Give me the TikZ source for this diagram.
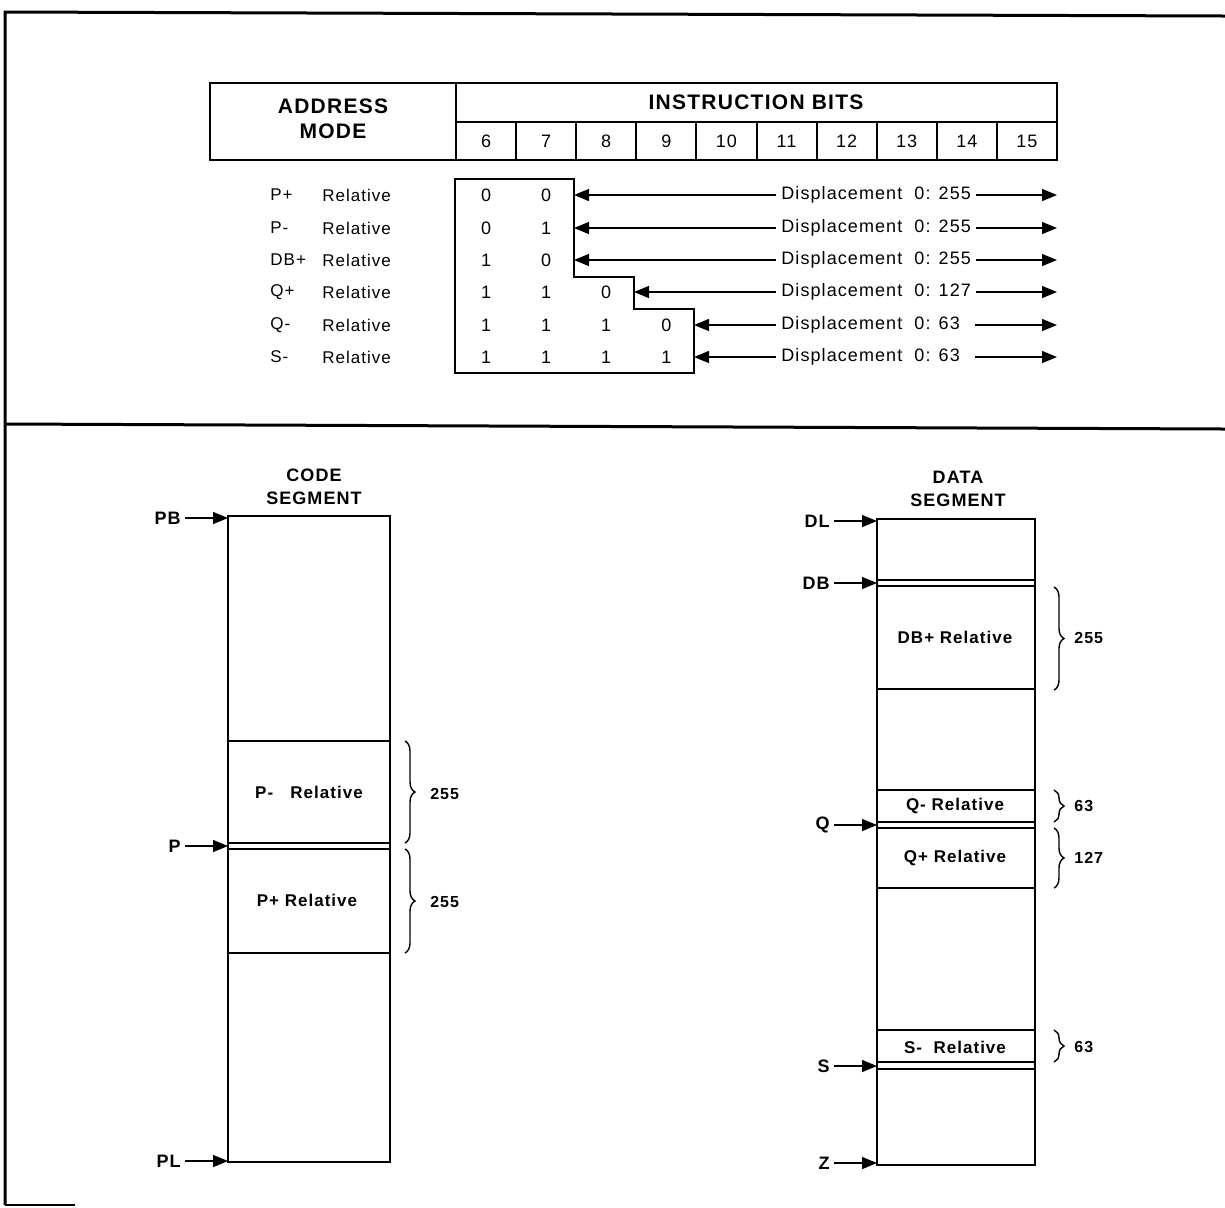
\documentclass[tikz,border=0pt]{standalone}
\usepackage{fontspec}
\setmainfont[LetterSpace=6]{Liberation Sans}
\usetikzlibrary{arrows.meta,decorations.pathreplacing}
\tikzset{
  frame/.style={line width=1.5pt},
  tab/.style={line width=1pt},
  seg/.style={line width=1.2pt},
  inner/.style={line width=0.8pt},
  ptr/.style={line width=0.7pt,-{Triangle[length=7.5pt,width=6pt]}},
  brc/.style={line width=0.7pt,decorate,decoration={brace,amplitude=5pt}},
  hdr/.style={font=\fontsize{10.5}{12.5}\selectfont\bfseries,align=center,inner sep=0pt},
  bitn/.style={font=\fontsize{9}{10}\selectfont,inner sep=0pt},
  model/.style={font=\fontsize{8.5}{10}\selectfont,anchor=west,inner sep=0pt},
  disp/.style={font=\fontsize{9}{10}\selectfont,anchor=west,inner sep=2.5pt},
  segt/.style={font=\fontsize{9}{11.5}\selectfont\bfseries,align=center,inner sep=0pt},
  regt/.style={font=\fontsize{8.5}{10}\selectfont\bfseries,inner sep=0pt},
  cnt/.style={font=\fontsize{8}{9}\selectfont\bfseries,anchor=west,inner sep=0pt},
  plab/.style={font=\fontsize{9}{10}\selectfont\bfseries,anchor=east,inner sep=2pt}
}
\begin{document}
\begin{tikzpicture}[x=0.5pt,y=-0.5pt]
\useasboundingbox (0,0) rectangle (1225,1207);
% outer frame
\draw[frame] (1225,16) -- (5,12) -- (5,1205);
\draw[line width=0.8pt] (5,1205) -- (75,1205);
\draw[frame] (5,424) -- (1225,429);
% ---------- table ----------
\draw[tab] (210,83) rectangle (1057,160);
\draw[tab] (456,83) -- (456,160);
\draw[tab] (456,122) -- (1057,122);
\foreach \i in {1,...,9} \draw[tab] (456+\i*60.1,122) -- (456+\i*60.1,160);
\node[hdr] (am) at (333,119) {ADDRESS\\MODE};
\node[hdr] (ib) at (756,102) {INSTRUCTION BITS};
\foreach \b [count=\i from 0] in {6,...,15}
  \node[bitn] (b\b) at (486+\i*60.1,141) {\b};
% mode rows
\foreach \m/\y [count=\k] in {P+/195,P-/228,DB+/260,Q+/292,Q-/325,S-/357}{
  \node[model] (m\k) at (270,\y) {\m};
  \node[model] (r\k) at (322,\y) {Relative};
}
% step box
\draw[inner] (455,179) -- (574,179) -- (574,277) -- (634,277) -- (634,309)
  -- (694,309) -- (694,373) -- (455,373) -- cycle;
% bit values
\foreach \row/\y in {{0,0}/195,{0,1}/228,{1,0}/260,{1,1,0}/292,{1,1,1,0}/325,{1,1,1,1}/357}{
  \foreach \v [count=\c from 0] in \row
    \node[bitn] at (486+\c*60.1,\y) {\v};
}
% displacement arrows
\foreach \k/\y/\e/\t in {1/195/574/{0: 255},2/228/574/{0: 255},3/260/574/{0: 255},
  4/292/634/{0: 127},5/325/694/{0: 63\phantom{5}},6/357/694/{0: 63\phantom{5}}}{
  \node[disp] (d\k) at (776,\y) {Displacement\ \ \t};
  \coordinate (l\k) at (\e,\y);
  \coordinate (e\k) at (1057,\y);
  \draw[ptr] (d\k.west) -- (l\k);
  \draw[ptr] (d\k.east) -- (e\k);
}
% ---------- code segment ----------
\node[segt] (cs) at (314,487) {CODE\\SEGMENT};
\draw[seg] (228,516) rectangle (390,1162);
\foreach \y in {741,843,849,953} \draw[inner] (228,\y) -- (390,\y);
\node[regt] (pm) at (309,792) {P-\ \ \ Relative};
\node[regt] (pp) at (307,900) {P+ Relative};
\draw[brc] (405,741) -- (405,843);
\node[cnt] (c1) at (430,794) {255};
\draw[brc] (405,849) -- (405,953);
\node[cnt] (c2) at (430,902) {255};
\foreach \n/\y in {PB/518,P/846,PL/1161}{
  \node[plab] (\n) at (185,\y) {\n};
  \coordinate (\n t) at (228,\y);
  \draw[ptr] (\n) -- (\n t);
}
% ---------- data segment ----------
\node[segt] (ds) at (958,489) {DATA\\SEGMENT};
\draw[seg] (877,519) rectangle (1035,1165);
\foreach \y in {580,586,689,790,822,828,888,1030,1062,1069} \draw[inner] (877,\y) -- (1035,\y);
\node[regt] (dbr) at (955,637) {DB+ Relative};
\node[regt] (qmr) at (955,806) {Q- Relative};
\node[regt] (qpr) at (955,858) {Q+ Relative};
\node[regt] (smr) at (955,1047) {S-\ \ Relative};
\draw[brc] (1054,587) -- (1054,690);
\node[cnt] (c3) at (1074,638) {255};
\draw[brc] (1054,790) -- (1054,822);
\node[cnt] (c4) at (1074,806) {63};
\draw[brc] (1054,828) -- (1054,888);
\node[cnt] (c5) at (1074,858) {127};
\draw[brc] (1054,1030) -- (1054,1062);
\node[cnt] (c6) at (1074,1047) {63};
\foreach \n/\y in {DL/521,DB/583,Q/825,S/1066,Z/1163}{
  \node[plab] (\n) at (834,\y) {\n};
  \coordinate (\n t) at (877,\y);
  \draw[ptr] (\n) -- (\n t);
}
\end{tikzpicture}
\end{document}
